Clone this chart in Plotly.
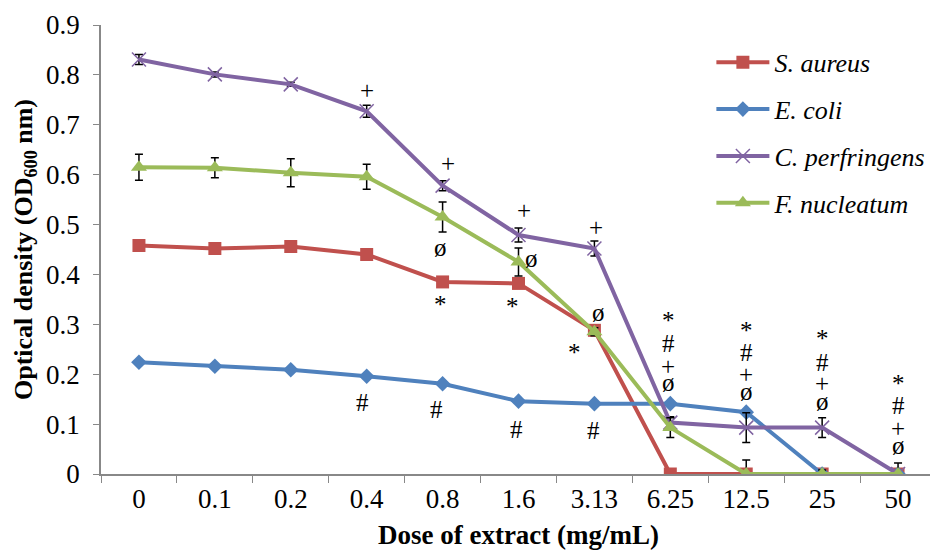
import plotly.graph_objects as go

doses = ["0", "0.1", "0.2", "0.4", "0.8", "1.6", "3.13", "6.25", "12.5", "25", "50"]

s_aureus = [0.458, 0.452, 0.456, 0.440, 0.385, 0.382, 0.288, 0.0, 0.0, 0.0, 0.0]
s_aureus_err = [0.005, 0.005, 0.005, 0.008, 0.006, 0.006, 0.008, 0.0, 0.0, 0.004, 0.003]
e_coli = [0.224, 0.216, 0.209, 0.196, 0.181, 0.146, 0.141, 0.141, 0.124, 0.0, 0.0]
e_coli_err = [0.004, 0.004, 0.004, 0.004, 0.004, 0.004, 0.004, 0.004, 0.004, 0.0, 0.0]
c_perfringens = [0.831, 0.801, 0.781, 0.727, 0.578, 0.479, 0.452, 0.103, 0.093, 0.093, 0.0]
c_perfringens_err = [0.010, 0.005, 0.004, 0.012, 0.010, 0.014, 0.015, 0.012, 0.030, 0.020, 0.0]
f_nucleatum = [0.615, 0.614, 0.604, 0.596, 0.515, 0.425, 0.285, 0.093, 0.0, 0.0, 0.0]
f_nucleatum_err = [0.026, 0.020, 0.028, 0.025, 0.030, 0.028, 0.008, 0.020, 0.028, 0.008, 0.022]

# significance marks: dose, y value, text, x pixel shift
marks_dose = ["0.4", "0.8", "0.8", "0.8", "0.8", "1.6", "1.6", "1.6", "1.6",
              "3.13", "3.13", "3.13", "3.13",
              "6.25", "6.25", "6.25", "6.25", "12.5", "12.5", "12.5", "12.5",
              "25", "25", "25", "25", "50", "50", "50", "50", "0.4"]
marks_y = [0.769, 0.622, 0.455, 0.340, 0.130, 0.529, 0.431, 0.335, 0.090,
           0.494, 0.324, 0.243, 0.088,
           0.308, 0.261, 0.216, 0.184, 0.288, 0.243, 0.200, 0.165,
           0.271, 0.224, 0.182, 0.145, 0.182, 0.137, 0.092, 0.057, 0.143]
marks_text = ["+", "+", "ø", "*", "#", "+", "ø", "*", "#",
              "+", "ø", "*", "#",
              "*", "#", "+", "ø", "*", "#", "+", "ø",
              "*", "#", "+", "ø", "*", "#", "+", "ø", "#"]
marks_shift = [0, 5, -2, -2, -6, 5, 13, -6, -2,
               2, 4, -20, -1,
               -2, -2, -2, -2, 0, 0, 0, 0,
               0, 0, 0, 0, 0, 0, 0, 0, -4]

FONT = "'Liberation Serif', 'Times New Roman', Times, serif"
series = [
    ("S. aureus", s_aureus, s_aureus_err, "#C0504D", dict(symbol="square", size=13)),
    ("E. coli", e_coli, e_coli_err, "#4F81BD", dict(symbol="diamond", size=12)),
    ("C. perfringens", c_perfringens, c_perfringens_err, "#8064A2",
     dict(symbol="x-thin", size=14, line=dict(width=1.5, color="#8064A2"))),
    ("F. nucleatum", f_nucleatum, f_nucleatum_err, "#9BBB59", dict(symbol="triangle-up", size=14)),
]

fig = go.Figure()
for i, (name, vals, err, col, mk) in enumerate(series):
    mk = dict(mk)
    mk["color"] = col
    fig.add_trace(go.Scatter(
        x=doses, y=vals, name=name, mode="lines+markers",
        line=dict(color=col, width=4), marker=mk,
        error_y=dict(type="data", array=err, color="black", thickness=1.5, width=4),
        legendgroup=str(i),
    ))

for d, y, t, s in zip(marks_dose, marks_y, marks_text, marks_shift):
    fig.add_annotation(x=doses.index(d), y=y, text=t, showarrow=False, xshift=s,
                       font=dict(family=FONT, size=25, color="black"))

fig.update_layout(
    width=930, height=542,
    margin=dict(l=93, r=2, t=17, b=76, autoexpand=False),
    paper_bgcolor="white", plot_bgcolor="white",
    font=dict(family=FONT, size=27, color="black"),
    showlegend=True,
    legend=dict(x=0.731, y=0.969, xanchor="left", yanchor="top",
                font=dict(family="Liberation Serif", size=26, style="italic"),
                bgcolor="rgba(0,0,0,0)", itemwidth=53, tracegroupgap=10),
)
fig.update_xaxes(
    type="category", categoryorder="array", categoryarray=doses,
    range=[-0.5, len(doses) - 0.5], automargin=False,
    tickson="boundaries", ticks="outside", ticklen=7, tickangle=0,
    tickcolor="#888888", showline=True, linecolor="#888888", linewidth=1.5,
    showgrid=False, tickfont=dict(family=FONT, size=27),
    title=dict(text="<b>Dose of extract (mg/mL)</b>", font=dict(family=FONT, size=27), standoff=14),
)
fig.update_yaxes(
    range=[0, 0.9], dtick=0.1, ticks="outside", ticklen=6, automargin=False,
    tickcolor="#888888", showline=True, linecolor="#888888", linewidth=1.5,
    showgrid=False, zeroline=False, tickfont=dict(family=FONT, size=27),
    ticklabelstandoff=8,
    title=dict(text="<b>Optical density (OD<sub>600</sub> nm)</b>", font=dict(family=FONT, size=26), standoff=6),
)

fig.write_html("out.html")
